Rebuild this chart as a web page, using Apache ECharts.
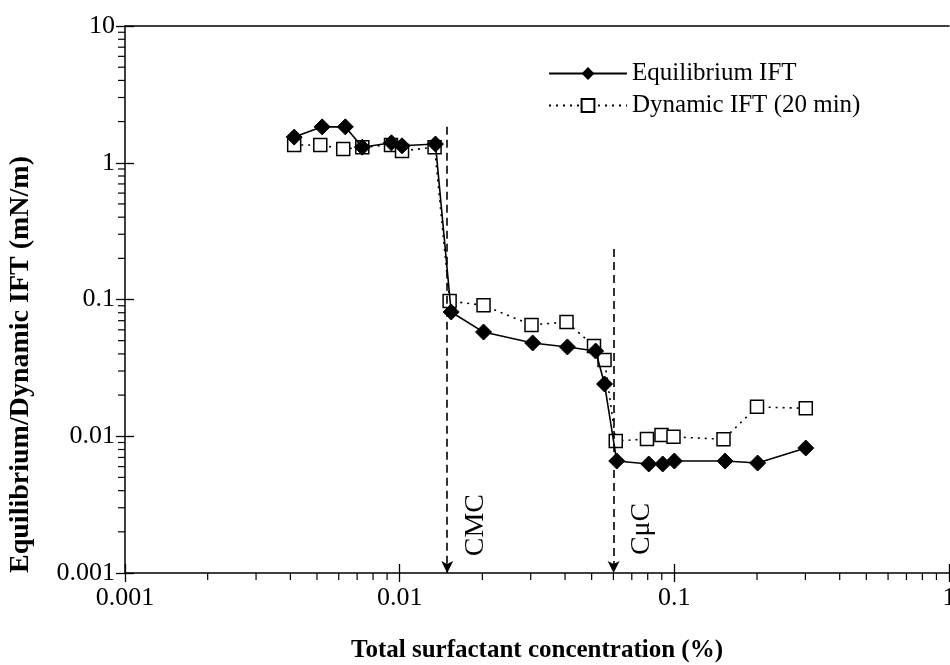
<!DOCTYPE html>
<html>
<head>
<meta charset="utf-8">
<script src="https://cdn.jsdelivr.net/npm/echarts@6/dist/echarts.min.js"></script>
<style>
  html, body { margin: 0; padding: 0; background: #fff; overflow: hidden; }
  #chart { width: 950px; height: 665px; }
</style>
</head>
<body>
<div id="chart"></div>
<script>
// Total surfactant concentration (%) for each measurement
const eqConc  = [0.00413, 0.00522, 0.00634, 0.00731, 0.00933, 0.0102, 0.0135, 0.0154, 0.0202, 0.0305,
                 0.0408, 0.0517, 0.0557, 0.0617, 0.0807, 0.0907, 0.100, 0.153, 0.201, 0.301];
// Equilibrium IFT (mN/m)
const eqIFT   = [1.54, 1.83, 1.83, 1.30, 1.40, 1.33, 1.37, 0.081, 0.0578, 0.0481,
                 0.045, 0.042, 0.0241, 0.00659, 0.00627, 0.00627, 0.00659, 0.00659, 0.00637, 0.0082];

const dynConc = [0.00413, 0.00514, 0.00623, 0.00731, 0.0093, 0.0102, 0.0134, 0.0152, 0.0202, 0.0302,
                 0.0405, 0.051, 0.0557, 0.0612, 0.0795, 0.0898, 0.0993, 0.151, 0.200, 0.301];
// Dynamic IFT after 20 min (mN/m)
const dynIFT  = [1.35, 1.35, 1.26, 1.30, 1.35, 1.22, 1.30, 0.0975, 0.0906, 0.0651,
                 0.0685, 0.0457, 0.0361, 0.00923, 0.00955, 0.0102, 0.0099, 0.0095, 0.0164, 0.016];

// Marker lines: critical micelle concentration and CμC
const markerNames = ['CMC', 'CμC'];
const markerConc  = [0.0149, 0.0601];
const markerTop   = [1.83, 0.234];
const markerLabelY = [0.00224, 0.0021];

// Axis ranges and tick labels
const xMin = 0.001, xMax = 1;
const yMin = 0.001, yMax = 10;
const xTickLabels = ['0.001', '0.01', '0.1', '1'];
const yTickLabels = ['0.001', '0.01', '0.1', '1', '10'];
const xDecades = [0.001, 0.01, 0.1];
const yDecades = [0.001, 0.01, 0.1, 1];
const minorSteps = [2, 3, 4, 5, 6, 7, 8, 9];

const FONT = '"Liberation Serif", "Times New Roman", serif';

const pair = (xs, ys) => xs.map((x, i) => [x, ys[i]]);
const xMinor = [];
xDecades.forEach(d => minorSteps.forEach(m => xMinor.push([+(d * m).toPrecision(3), yMin])));
const yMinor = [];
yDecades.forEach(d => minorSteps.forEach(m => yMinor.push([xMin, +(d * m).toPrecision(3)])));

const chart = echarts.init(document.getElementById('chart'), null, { renderer: 'canvas', width: 950, height: 665 });

const axisCommon = {
  type: 'log', logBase: 10,
  axisLine: { show: true, lineStyle: { color: '#000', width: 1.5 } },
  splitLine: { show: false },
  minorTick: { show: false }
};

const option = {
  backgroundColor: '#fff',
  animation: false,
  grid: { left: 125, right: 1, top: 26, bottom: 92, containLabel: false, outerBoundsMode: 'none' },
  legend: {
    data: ['Equilibrium IFT', 'Dynamic IFT (20 min)'],
    orient: 'vertical',
    left: 543, top: 56,
    itemWidth: 78, itemHeight: 16, itemGap: 7,
    textStyle: { fontFamily: FONT, fontSize: 25, color: '#000', padding: [0, 0, 0, 0] }
  },
  xAxis: [
    Object.assign({}, axisCommon, {
      min: xMin, max: xMax, position: 'bottom',
      name: 'Total surfactant concentration (%)',
      nameLocation: 'middle', nameGap: 65,
      nameTextStyle: { fontFamily: FONT, fontSize: 25, fontWeight: 'bold', color: '#000' },
      axisTick: { show: true, inside: false, length: 9, lineStyle: { color: '#000', width: 1.3 } },
      axisLabel: { fontFamily: FONT, fontSize: 26, color: '#000', margin: 12,
                   formatter: v => xTickLabels.find(t => Math.abs(+t - v) < v * 1e-6) || '' }
    }),
    Object.assign({}, axisCommon, {
      min: xMin, max: xMax, position: 'bottom',
      axisLine: { show: false },
      axisTick: { show: true, inside: true, length: 9, lineStyle: { color: '#000', width: 1.3 } },
      axisLabel: { show: false }
    }),
    Object.assign({}, axisCommon, {
      min: xMin, max: xMax, position: 'top',
      axisTick: { show: false }, axisLabel: { show: false }
    })
  ],
  yAxis: [
    Object.assign({}, axisCommon, {
      min: yMin, max: yMax, position: 'left',
      name: 'Equilibrium/Dynamic IFT (mN/m)',
      nameLocation: 'middle', nameGap: 90,
      nameTextStyle: { fontFamily: FONT, fontSize: 28, fontWeight: 'bold', color: '#000',
                       padding: [0, 130, 0, 0] },
      axisTick: { show: true, inside: false, length: 9, lineStyle: { color: '#000', width: 1.3 } },
      axisLabel: { fontFamily: FONT, fontSize: 26, color: '#000', margin: 10,
                   formatter: v => yTickLabels.find(t => Math.abs(+t - v) < v * 1e-6) || '' }
    }),
    Object.assign({}, axisCommon, {
      min: yMin, max: yMax, position: 'left',
      axisLine: { show: false },
      axisTick: { show: true, inside: true, length: 9, lineStyle: { color: '#000', width: 1.3 } },
      axisLabel: { show: false }
    })
  ],
  series: [
    {
      name: 'Dynamic IFT (20 min)',
      type: 'line',
      data: pair(dynConc, dynIFT),
      symbol: 'rect', symbolSize: 13,
      itemStyle: { color: '#fff', borderColor: '#000', borderWidth: 1.5 },
      lineStyle: { color: '#000', width: 1.6, type: [2, 5] },
      z: 3
    },
    {
      name: 'Equilibrium IFT',
      type: 'line',
      data: pair(eqConc, eqIFT),
      symbol: 'diamond', symbolSize: 16,
      itemStyle: { color: '#000', borderColor: '#000' },
      lineStyle: { color: '#000', width: 1.6 },
      z: 4,
      markLine: {
        silent: true,
        symbol: ['none', 'arrow'], symbolSize: [9, 12],
        lineStyle: { color: '#000', width: 1.6, type: [8, 5] },
        label: { show: false },
        data: markerConc.map((c, i) => [{ coord: [c, markerTop[i]] }, { coord: [c, yMin] }])
      }
    },
    {
      // vertical captions beside the CMC / CμC marker lines
      type: 'custom', silent: true, clip: false, z: 5,
      data: markerConc.map((c, i) => [c, markerLabelY[i], i]),
      renderItem: (params, api) => {
        const p = api.coord([api.value(0), api.value(1)]);
        return {
          type: 'text', x: p[0] + 28, y: p[1], rotation: Math.PI / 2,
          style: { text: markerNames[api.value(2)], fontFamily: FONT, fontSize: 28,
                   fill: '#000', align: 'center', verticalAlign: 'middle' }
        };
      }
    },
    {
      // minor ticks on the concentration axis
      type: 'custom', silent: true, clip: false,
      data: xMinor,
      renderItem: (params, api) => {
        const p = api.coord([api.value(0), api.value(1)]);
        return { type: 'line', shape: { x1: p[0], y1: p[1], x2: p[0], y2: p[1] + 7 },
                 style: { stroke: '#000', lineWidth: 1.2 } };
      }
    },
    {
      // minor ticks on the IFT axis
      type: 'custom', silent: true, clip: false,
      data: yMinor,
      renderItem: (params, api) => {
        const p = api.coord([api.value(0), api.value(1)]);
        return { type: 'line', shape: { x1: p[0] - 7, y1: p[1], x2: p[0], y2: p[1] },
                 style: { stroke: '#000', lineWidth: 1.2 } };
      }
    }
  ]
};

chart.setOption(option);
</script>
</body>
</html>
